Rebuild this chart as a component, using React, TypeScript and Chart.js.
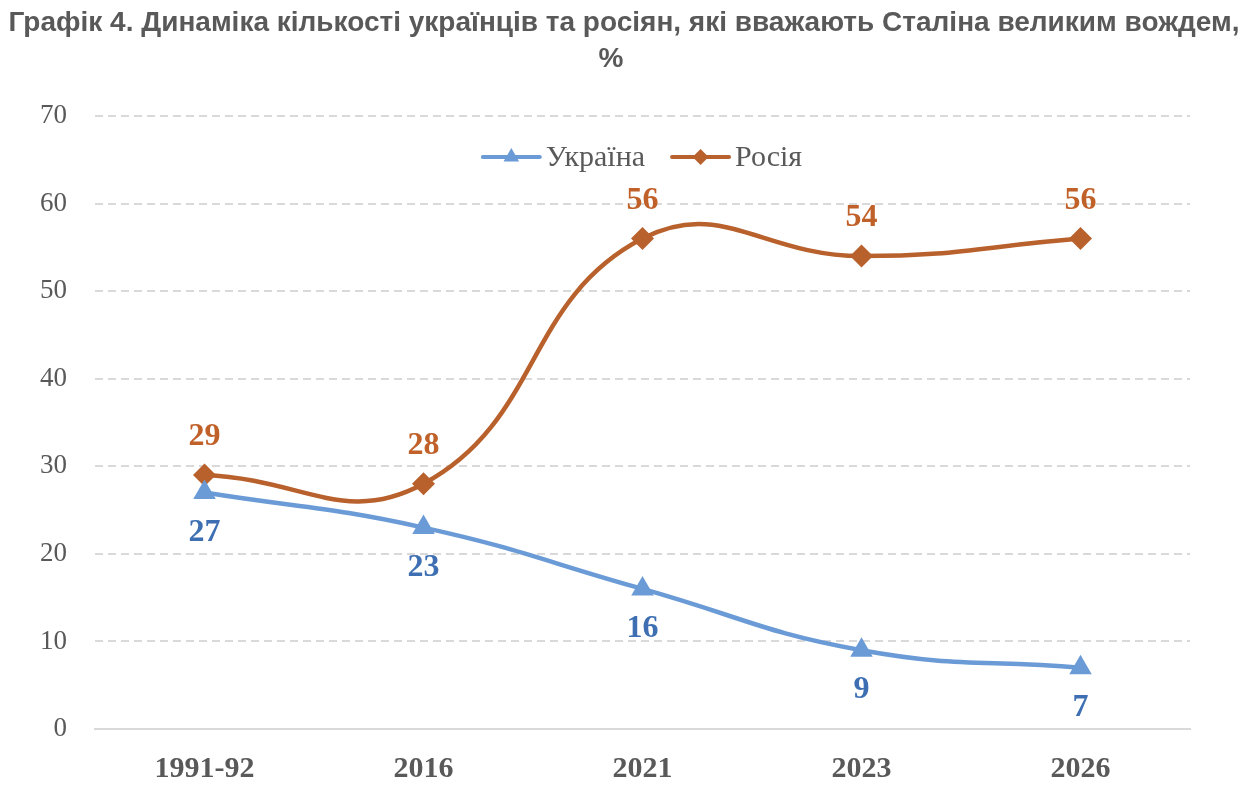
import React, { useRef, useEffect } from 'react'
import { Chart, registerables } from 'chart.js'

Chart.register(...registerables)

const TITLE_LINES = [
  'Графік 4. Динаміка кількості українців та росіян, які вважають Сталіна великим вождем,',
  '%',
]
const YEARS = ['1991-92', '2016', '2021', '2023', '2026']
const UKRAINE = [27, 23, 16, 9, 7]
const RUSSIA = [29, 28, 56, 54, 56]
const SERIES_NAMES = ['Україна', 'Росія']
const Y_MIN = 0
const Y_MAX = 70
const Y_STEP = 10

const LINE_COLORS = ['#6b9bd6', '#b8612c']
const LABEL_COLORS = ['#3d6fb2', '#c0612a']
const GRAY = '#595959'
const SERIF = '"Liberation Serif", "Times New Roman", serif'
const SANS = '"Liberation Sans", Arial, sans-serif'

function drawMarker(ctx: CanvasRenderingContext2D, style: string, x: number, y: number, r: number) {
  ctx.beginPath()
  if (style === 'triangle') {
    ctx.moveTo(x, y - r)
    ctx.lineTo(x + r * 0.866, y + r * 0.5)
    ctx.lineTo(x - r * 0.866, y + r * 0.5)
  } else {
    ctx.moveTo(x - r, y)
    ctx.lineTo(x, y - r)
    ctx.lineTo(x + r, y)
    ctx.lineTo(x, y + r)
  }
  ctx.closePath()
  ctx.fill()
}

// two-line bold heading above the plot (drawn by hand so it is not squeezed)
const headTitle = {
  id: 'headTitle',
  afterDraw(chart: any) {
    const { ctx, width } = chart
    ctx.save()
    ctx.font = `bold 28px ${SANS}`
    ctx.fillStyle = GRAY
    ctx.textAlign = 'center'
    ctx.textBaseline = 'middle'
    ctx.fillText(TITLE_LINES[0], width / 2 - 3, 15)
    ctx.fillText(TITLE_LINES[1], width / 2 - 16, 51)
    ctx.restore()
  },
}

// numbers above (Russia) and below (Ukraine) each point
const valueLabels = {
  id: 'valueLabels',
  afterDatasetsDraw(chart: any) {
    const { ctx } = chart
    ctx.save()
    ctx.font = `bold 32px ${SERIF}`
    ctx.textAlign = 'center'
    ctx.textBaseline = 'middle'
    chart.data.datasets.forEach((ds: any, i: number) => {
      const meta = chart.getDatasetMeta(i)
      ctx.fillStyle = LABEL_COLORS[i]
      meta.data.forEach((pt: any, j: number) => {
        const dy = i === 0 ? 40 : -38
        ctx.fillText(String(ds.data[j]), pt.x, pt.y + dy)
      })
    })
    ctx.restore()
  },
}

// Excel-like legend: line with marker in the middle, drawn inside the plot
const lineLegend = {
  id: 'lineLegend',
  afterDraw(chart: any) {
    const { ctx, chartArea } = chart
    ctx.save()
    ctx.font = `30px ${SERIF}`
    ctx.textBaseline = 'middle'
    const lineLen = 57
    const gapText = 6
    const gapItem = 27
    const items = chart.data.datasets.map((ds: any) => ({
      ds,
      w: ctx.measureText(ds.label).width,
    }))
    const total =
      items.reduce((s: number, it: any) => s + lineLen + gapText + it.w, 0) +
      gapItem * (items.length - 1)
    let x = (chartArea.left + chartArea.right) / 2 - total / 2
    const y = chartArea.top + 41
    items.forEach((it: any) => {
      const tri = it.ds.pointStyle === 'triangle'
      ctx.strokeStyle = it.ds.borderColor
      ctx.fillStyle = it.ds.borderColor
      ctx.lineWidth = 4
      ctx.lineCap = 'round'
      ctx.beginPath()
      ctx.moveTo(x, y)
      ctx.lineTo(x + lineLen, y)
      ctx.stroke()
      drawMarker(ctx, tri ? 'triangle' : 'diamond', x + lineLen / 2, y, tri ? 9 : 8)
      ctx.fillStyle = GRAY
      ctx.fillText(it.ds.label, x + lineLen + gapText, y + 1)
      x += lineLen + gapText + it.w + gapItem
    })
    ctx.restore()
  },
}

export default function App() {
  const canvasRef = useRef<HTMLCanvasElement>(null)

  useEffect(() => {
    const canvas = canvasRef.current
    if (!canvas) return

    const chart = new Chart(canvas, {
      type: 'line',
      data: {
        labels: YEARS,
        datasets: [
          {
            label: SERIES_NAMES[0],
            data: UKRAINE,
            borderColor: LINE_COLORS[0],
            backgroundColor: LINE_COLORS[0],
            borderWidth: 4.5,
            pointStyle: 'triangle',
            pointRadius: 13,
            pointBorderWidth: 0,
            tension: 0.45,
          },
          {
            label: SERIES_NAMES[1],
            data: RUSSIA,
            borderColor: LINE_COLORS[1],
            backgroundColor: LINE_COLORS[1],
            borderWidth: 4.5,
            pointStyle: 'rectRot',
            pointRadius: 11.5,
            pointBorderWidth: 0,
            tension: 0.45,
          },
        ],
      },
      plugins: [headTitle, valueLabels, lineLegend],
      options: {
        animation: false,
        responsive: true,
        maintainAspectRatio: false,
        layout: { padding: { top: 108, left: 32, right: 56, bottom: 4 } },
        plugins: {
          legend: { display: false },
          tooltip: { enabled: false },
          title: { display: false },
        },
        scales: {
          x: {
            offset: true,
            afterFit: (scale: any) => {
              scale.height = 55
            },
            grid: { display: false, drawTicks: false },
            border: { display: true, color: '#d9d9d9', width: 2 },
            ticks: {
              color: GRAY,
              padding: 22,
              font: { family: SERIF, size: 30, weight: 'bold' },
            },
          },
          y: {
            min: Y_MIN,
            max: Y_MAX,
            afterFit: (scale: any) => {
              scale.width = 55
            },
            grid: { color: '#d9d9d9', lineWidth: 2, drawTicks: false },
            border: { display: false, dash: [8, 5] },
            ticks: {
              stepSize: Y_STEP,
              color: GRAY,
              padding: 28,
              font: { family: SERIF, size: 27 },
            },
          },
        },
      },
    })

    return () => {
      chart.destroy()
    }
  }, [])

  return (
    <div style={{ position: 'relative', width: '100%', height: 780 }}>
      <canvas ref={canvasRef} />
    </div>
  )
}
